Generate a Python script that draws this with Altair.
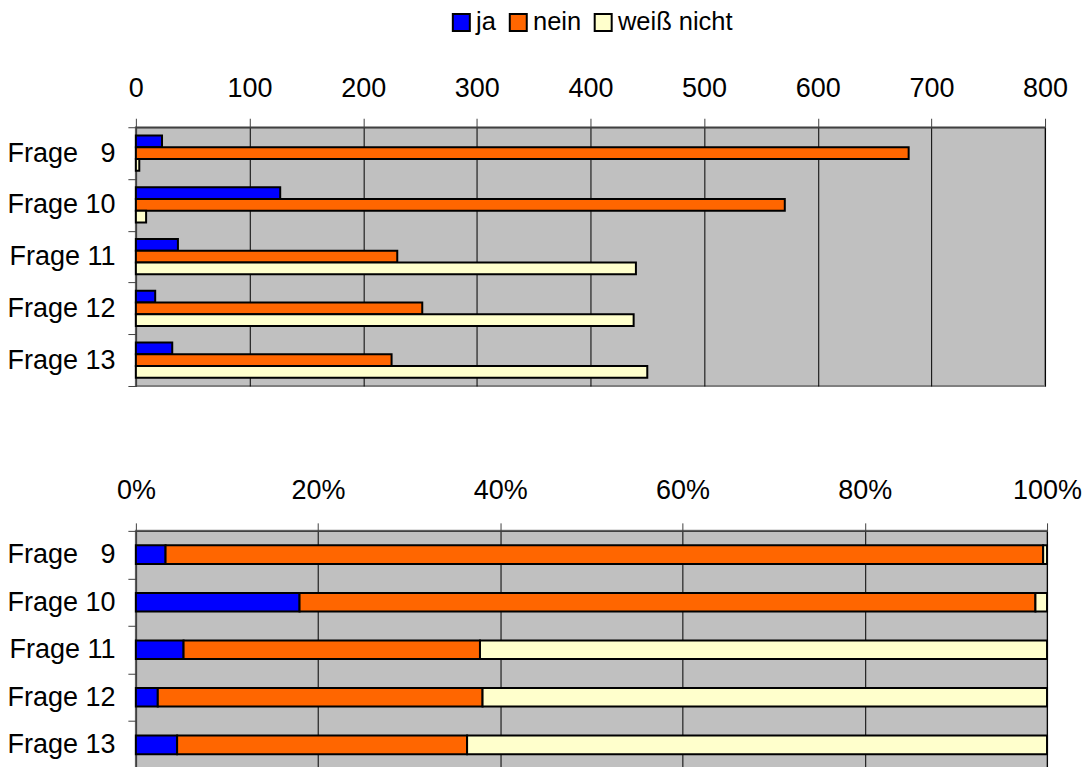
import altair as alt
import pandas as pd

categories = ["Frage\u00a0\u00a0\u00a09", "Frage 10", "Frage 11", "Frage 12", "Frage 13"]
series = ["ja", "nein", "weiß nicht"]
ja = [23, 127, 37, 17, 32]
nein = [680, 571, 230, 252, 225]
weiss = [3, 9, 440, 438, 450]
colors = ["#0000FF", "#FF6600", "#FFFFCC"]
top_ticks = [0, 100, 200, 300, 400, 500, 600, 700, 800]
pct_ticks = [0, 0.2, 0.4, 0.6, 0.8, 1.0]

rows = []
for i, c in enumerate(categories):
    for j, (s, v) in enumerate(zip(series, [ja[i], nein[i], weiss[i]])):
        rows.append({"Frage": c, "Antwort": s, "Wert": v, "ord": j})
df = pd.DataFrame(rows)

FONT = "Liberation Sans"
FS = 27

color_scale = alt.Scale(domain=series, range=colors)

y_axis = alt.Axis(
    title=None, tickBand="extent", ticks=True, tickSize=8, tickColor="#404040",
    domainColor="#404040", domainWidth=1.5, labelFont=FONT, labelFontSize=FS,
    labelColor="black", labelPadding=13, grid=False,
)

top = alt.Chart(df).mark_bar(stroke="black", strokeWidth=2).encode(
    x=alt.X("Wert:Q", scale=alt.Scale(domain=[0, 800], nice=False),
            axis=alt.Axis(orient="top", title=None, values=top_ticks, tickSize=9,
                          tickColor="#404040", domainColor="#404040", domainWidth=1.5,
                          labelFont=FONT, labelFontSize=FS, labelColor="black",
                          labelPadding=16, labelFlush=False, grid=True,
                          gridColor="#000000", gridWidth=1)),
    y=alt.Y("Frage:N", sort=categories,
            scale=alt.Scale(paddingInner=0, paddingOuter=0), axis=y_axis),
    yOffset=alt.YOffset("Antwort:N", sort=series,
                        scale=alt.Scale(paddingInner=0, paddingOuter=0.71)),
    color=alt.Color("Antwort:N", scale=color_scale, sort=series,
                    legend=alt.Legend(title=None, orient="none", direction="horizontal",
                                      legendX=313, legendY=-118,
                                      symbolType="square", symbolSize=289,
                                      symbolStrokeColor="black", symbolStrokeWidth=2,
                                      labelFont=FONT, labelFontSize=25.5,
                                      labelColor="black", columnPadding=9,
                                      labelOffset=2)),
).properties(width=910, height=259)

bottom = alt.Chart(df).mark_bar(stroke="black", strokeWidth=2,
                                height=alt.RelativeBandSize(0.39)).encode(
    x=alt.X("Wert:Q", stack="normalize", scale=alt.Scale(domain=[0, 1], nice=False),
            axis=alt.Axis(orient="top", title=None, values=pct_ticks, format=".0%",
                          tickSize=8, tickColor="#404040", domainColor="#404040",
                          domainWidth=1.5, labelFont=FONT, labelFontSize=FS,
                          labelColor="black", labelPadding=18, labelFlush=False,
                          grid=True, gridColor="#000000", gridWidth=1)),
    y=alt.Y("Frage:N", sort=categories,
            scale=alt.Scale(paddingInner=0, paddingOuter=0), axis=y_axis),
    color=alt.Color("Antwort:N", scale=color_scale, sort=series, legend=None),
    order=alt.Order("ord:Q"),
).properties(width=912, height=238)

chart = alt.vconcat(top, bottom, spacing=88).resolve_scale(color="independent").properties(
    padding={"left": 5, "top": 8, "right": 5, "bottom": 0},
    background="white",
).configure_view(
    fill="#C0C0C0", stroke="#808080", strokeWidth=2
)

chart.save("out.html", embed_options={"renderer": "svg", "actions": False})
